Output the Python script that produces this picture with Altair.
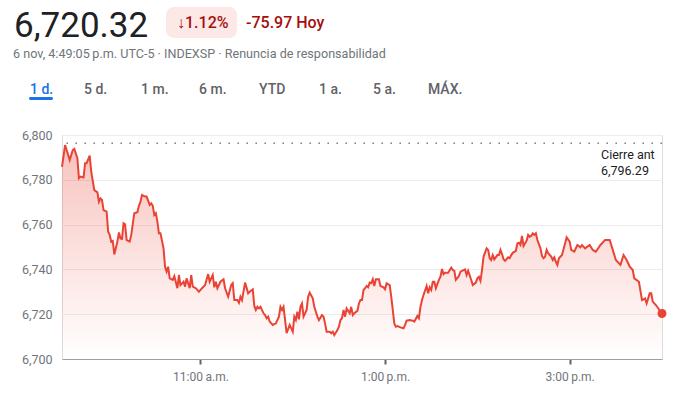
import altair as alt
import pandas as pd

# minutes after the 9:30 open and S&P 500 level
minute = [0,2,3,5,7,8,10,11,12,14,15,16,18,19,21,23,24,25,26,27,29,30,31,32,33,34,36,37,38,39,
          40,41,42,44,45,47,49,50,51,52,54,55,57,58,59,60,61,62,63,64,66,67,68,69,70,72,73,75,76,77,
          79,80,81,83,84,85,87,89,91,93,95,96,98,99,100,101,103,105,106,108,110,111,112,114,115,116,117,119,121,122,
          124,125,126,127,128,129,131,132,133,134,135,137,139,141,142,143,144,145,146,148,149,150,151,152,153,154,155,156,157,159,
          160,161,163,164,166,167,169,170,171,172,174,175,176,177,179,180,181,182,183,184,185,187,188,189,190,192,193,194,195,196,
          197,198,199,200,201,202,203,204,206,207,209,210,211,213,214,215,216,217,218,220,222,223,224,226,228,229,231,232,233,234,
          235,237,238,239,240,241,242,243,245,246,247,248,249,251,253,254,255,256,258,259,261,262,263,264,266,267,269,270,271,272,
          273,274,276,277,278,279,280,281,283,284,285,286,287,288,290,291,292,293,295,296,297,298,299,300,302,303,304,305,306,307,
          308,309,311,312,313,314,315,316,318,319,320,321,322,323,325,327,328,330,331,333,335,337,338,340,343,345,347,350,353,356,
          358,360,363,365,367,369,371,372,375,377,379,380,382,383,384,386,390]
price = [6785.8,6795.5,6793.3,6788.8,6793.3,6793.8,6789.6,6780.7,6781.4,6781.0,6787.4,6787.4,6790.8,6783.6,6775.4,6774.4,6770.2,6771.7,6771.0,6766.5,6765.8,6756.8,6755.4,6752.4,6752.7,6746.7,6752.4,6756.5,6753.8,6753.6,
         6760.6,6760.1,6753.1,6752.4,6755.4,6765.1,6765.5,6768.4,6770.2,6773.2,6772.5,6772.5,6768.8,6769.5,6768.4,6764.3,6765.1,6761.3,6756.1,6756.1,6749.4,6741.2,6739.0,6741.2,6736.0,6735.3,6737.0,6731.6,6737.5,6733.0,
         6734.5,6732.3,6736.0,6731.6,6737.5,6732.3,6731.6,6730.0,6731.6,6733.0,6737.9,6734.5,6737.5,6732.0,6734.5,6731.6,6734.5,6735.6,6731.6,6727.8,6733.0,6733.8,6726.3,6726.3,6725.1,6727.8,6726.3,6734.1,6729.3,6730.0,
         6731.1,6723.7,6721.9,6723.3,6722.6,6723.3,6720.4,6719.6,6718.2,6718.9,6716.7,6715.2,6715.9,6718.9,6723.3,6721.9,6723.3,6717.4,6711.5,6715.2,6713.7,6712.2,6718.9,6717.4,6721.1,6717.7,6723.3,6724.8,6718.9,6721.9,
         6727.8,6729.6,6727.1,6723.3,6718.9,6717.4,6719.6,6718.9,6715.9,6712.2,6712.2,6711.5,6712.2,6710.7,6712.9,6714.4,6717.4,6718.2,6721.9,6718.9,6722.6,6720.4,6723.3,6719.6,6720.4,6721.5,6724.8,6726.3,6726.3,6730.8,
         6731.6,6732.6,6732.0,6734.1,6733.8,6735.6,6732.6,6735.6,6735.6,6732.6,6732.0,6731.1,6733.8,6733.0,6727.8,6721.9,6715.9,6714.4,6714.7,6714.1,6713.7,6715.2,6717.1,6717.4,6717.1,6716.7,6719.2,6718.2,6723.3,6726.3,
         6728.6,6732.6,6729.3,6732.0,6730.8,6734.5,6734.5,6731.6,6735.3,6736.7,6740.2,6737.9,6738.5,6738.5,6740.8,6739.7,6739.4,6735.3,6737.0,6739.0,6739.7,6740.0,6737.5,6739.4,6735.3,6733.0,6734.1,6736.0,6736.7,6734.9,
         6739.7,6745.7,6749.4,6748.7,6745.0,6744.2,6746.4,6744.5,6746.4,6746.4,6748.7,6746.9,6744.5,6743.8,6745.4,6745.0,6746.4,6747.4,6748.3,6751.6,6751.9,6750.9,6754.9,6750.4,6752.8,6755.4,6754.6,6754.9,6756.1,6755.4,
         6756.1,6753.1,6749.4,6746.0,6745.0,6745.7,6748.7,6747.2,6745.7,6744.2,6745.4,6743.4,6742.0,6745.0,6746.4,6751.6,6754.3,6752.4,6748.7,6747.9,6750.9,6749.9,6750.9,6749.4,6750.9,6748.7,6747.9,6750.9,6753.1,6753.1,
         6748.7,6744.2,6742.0,6746.4,6744.2,6741.2,6739.7,6736.0,6734.5,6726.3,6727.0,6724.8,6729.3,6729.3,6725.6,6724.1,6720.32]
assert len(minute) == len(price)

prev_close = 6796.29
y_ticks = [6700, 6720, 6740, 6760, 6780, 6800]
x_tick_minutes = [90, 210, 330]
x_tick_labels = ["11:00\u2009a.m.", "1:00\u2009p.m.", "3:00\u2009p.m."]
tabs = ["1 d.", "5 d.", "1 m.", "6 m.", "YTD", "1 a.", "5 a.", "MÁX."]
tab_x = [30, 84, 141, 199, 259, 319, 373, 428]

df = pd.DataFrame({"minute": minute, "price": price})

RED = "#ea4335"
FONT = "Roboto"
L, T = 62, 135  # plot origin in page pixels

label_expr = " : ".join(
    f"datum.value == {m} ? '{lab}'" for m, lab in zip(x_tick_minutes, x_tick_labels)
) + " : ''"

xenc = alt.X("minute:Q", scale=alt.Scale(domain=[0, 390], nice=False),
             axis=alt.Axis(values=x_tick_minutes, labelExpr=label_expr, title=None,
                           grid=False, domain=True, domainColor="#9aa0a6", domainWidth=1,
                           tickColor="#5f6368", tickWidth=2, tickSize=5,
                           labelColor="#70757a", labelFontSize=12, labelPadding=7,
                           labelFont=FONT))
yenc = alt.Y("price:Q", scale=alt.Scale(domain=[6700, 6800], nice=False, zero=False),
             axis=alt.Axis(values=y_ticks, format=",.0f", title=None, grid=True,
                           gridColor="#ececec", gridWidth=1, domain=False, ticks=False,
                           labelColor="#70757a", labelFontSize=12.5, labelPadding=10,
                           labelFont=FONT))

base = alt.Chart(df)

area = base.mark_area(
    color=alt.Gradient(gradient="linear",
                       stops=[alt.GradientStop(color="rgba(234,67,53,0.32)", offset=0),
                              alt.GradientStop(color="rgba(234,67,53,0.0)", offset=1)],
                       x1=1, x2=1, y1=0, y2=1)
).encode(x=xenc, y=yenc, y2=alt.datum(6700))

line = base.mark_line(color=RED, strokeWidth=2).encode(x="minute:Q", y="price:Q")

dot = base.mark_circle(color=RED, opacity=1, size=80).encode(
    x="minute:Q", y="price:Q").transform_filter(f"datum.minute == {minute[-1]}")

one = pd.DataFrame({"k": [0]})

rule = alt.Chart(one).mark_rule(color="#80868b", strokeWidth=1.6, strokeDash=[1.6, 7.4]).encode(
    y=alt.datum(prev_close))

def txt(s, x, y, size, color, weight="normal"):
    return alt.Chart(one).mark_text(text=s, align="left", baseline="alphabetic",
                                    font=FONT, fontSize=size, color=color,
                                    fontWeight=weight).encode(
        x=alt.value(x - L), y=alt.value(y - T))

prev_lbl1 = txt("Cierre ant", 601, 159, 12.5, "#202124")
prev_lbl2 = txt(f"{prev_close:,.2f}", 601, 175, 12.5, "#202124")

badge = alt.Chart(one).mark_rect(color="#fce8e6", cornerRadius=8).encode(
    x=alt.value(166 - L), x2=alt.value(237 - L), y=alt.value(7 - T), y2=alt.value(38 - T))
underline = alt.Chart(one).mark_rect(color="#1a73e8", cornerRadius=1.5).encode(
    x=alt.value(29 - L), x2=alt.value(53 - L), y=alt.value(97 - T), y2=alt.value(100 - T))

last = price[-1]
chg = last - prev_close
pct = chg / prev_close * 100

header = [
    txt(f"{last:,.2f}", 14, 37, 35, "#202124"),
    txt(f"\u2193{abs(pct):.2f}%", 177, 28, 16, "#a50e0e", 500),
    txt(f"{chg:.2f} Hoy", 246, 28, 16, "#a50e0e", 500),
    txt("6 nov, 4:49:05\u2009p.m. UTC-5 · INDEXSP · Renuncia de responsabilidad", 13, 58, 12.6, "#70757a"),
]
tab_layers = [txt(t, x, 94, 14, "#1a73e8" if i == 0 else "#5f6368", 500)
              for i, (t, x) in enumerate(zip(tabs, tab_x))]

chart = alt.layer(area, rule, line, dot, prev_lbl1, prev_lbl2, badge, underline,
                  *header, *tab_layers).properties(
    width=600, height=224,
    autosize=alt.AutoSizeParams(type="none"),
    padding={"left": L, "top": T, "right": 31, "bottom": 37},
    background="white",
).configure_view(stroke=None).configure(font=FONT)

chart.save("out.html", embed_options={"renderer": "svg", "actions": False})
